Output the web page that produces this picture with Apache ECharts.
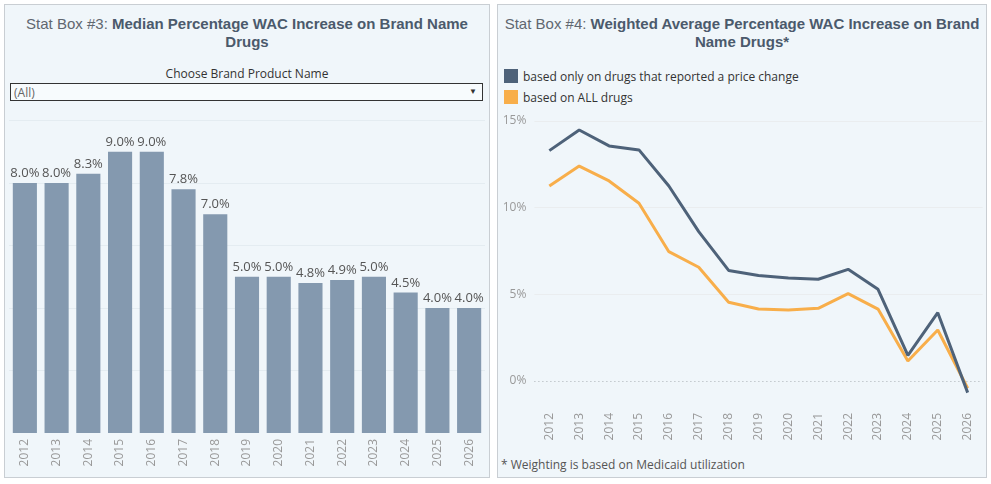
<!DOCTYPE html>
<html>
<head>
<meta charset="utf-8">
<script src="https://cdn.jsdelivr.net/npm/echarts@6/dist/echarts.min.js"></script>
<style>
  html,body{margin:0;padding:0;background:#fff;width:991px;height:484px;overflow:hidden;font-family:"Open Sans","Noto Sans",sans-serif;}
  .panel{position:absolute;background:#F0F6FA;border:1px solid #C9CED3;box-sizing:border-box;}
  .title{position:absolute;text-align:center;font-family:"Liberation Sans",Arial,sans-serif;font-size:15px;line-height:18px;color:#4B5A6C;}
  .title .pre{color:#606770;font-weight:normal;}
  .title b{font-weight:bold;}
  #chart{position:absolute;left:0;top:0;width:991px;height:484px;}
  .lbl{position:absolute;font-size:12px;color:#333;white-space:nowrap;}
  .sq{position:absolute;width:14px;height:14px;}
  .dd{position:absolute;left:10px;top:83px;width:473px;height:18px;border:1px solid #333;box-sizing:border-box;background:#F7FBFD;}
</style>
</head>
<body>
<div class="panel" style="left:4px;top:4px;width:486px;height:474px;"></div>
<div class="panel" style="left:497px;top:4px;width:490px;height:474px;"></div>

<div class="title" style="left:4px;top:15px;width:486px;"><span class="pre">Stat Box #3: </span><b>Median Percentage WAC Increase on Brand Name<br>Drugs</b></div>
<div class="title" style="left:497px;top:15px;width:490px;"><span class="pre">Stat Box #4: </span><b>Weighted Average Percentage WAC Increase on Brand<br>Name Drugs*</b></div>

<div class="lbl" style="left:4px;width:486px;text-align:center;top:65px;">Choose Brand Product Name</div>
<div class="dd"></div>
<div class="lbl" style="left:14px;top:84px;color:#666;">(All)</div>
<div class="lbl" style="left:469px;top:85px;font-size:8px;color:#333;">▼</div>

<div class="sq" style="left:504px;top:69px;background:#4E6279;"></div>
<div class="lbl" style="left:523px;top:68px;">based only on drugs that reported a price change</div>
<div class="sq" style="left:504px;top:90px;background:#F8AE4A;"></div>
<div class="lbl" style="left:523px;top:89px;">based on ALL drugs</div>

<div class="lbl" style="left:501px;top:456px;color:#555;">* Weighting is based on Medicaid utilization</div>

<div id="chart"></div>
<script>
const years = ['2012','2013','2014','2015','2016','2017','2018','2019','2020','2021','2022','2023','2024','2025','2026'];
const medianIncrease = [8.0,8.0,8.3,9.0,9.0,7.8,7.0,5.0,5.0,4.8,4.9,5.0,4.5,4.0,4.0];
const weightedChanged = [13.29,14.48,13.56,13.33,11.25,8.62,6.38,6.08,5.94,5.87,6.44,5.29,1.48,3.94,-0.67];
const weightedAll = [11.25,12.40,11.54,10.25,7.46,6.56,4.54,4.15,4.10,4.19,5.04,4.15,1.15,2.94,-0.42];
const rightTicks = [0,5,10,15];

const chart = echarts.init(document.getElementById('chart'), null, {renderer:'canvas'});
const font = '"Open Sans","Noto Sans",sans-serif';
chart.setOption({
  backgroundColor:'transparent',
  animation:false,
  textStyle:{fontFamily:font},
  grid:[
    {left:9, right:506, top:120.5, bottom:51, containLabel:false},
    {left:534.4, right:8.4, top:112.3, bottom:77, containLabel:false}
  ],
  xAxis:[
    {gridIndex:0, type:'category', data:years, axisLine:{show:false}, axisTick:{show:false},
     axisLabel:{rotate:90, color:'#999', fontSize:12, margin:6, fontFamily:font}},
    {gridIndex:1, type:'category', data:years, axisLine:{show:false}, axisTick:{show:false},
     axisLabel:{rotate:90, color:'#999', fontSize:12, margin:6, fontFamily:font}}
  ],
  yAxis:[
    {gridIndex:0, type:'value', min:0, max:10, interval:2, axisLabel:{show:false}, axisLine:{show:false}, axisTick:{show:false},
     splitLine:{show:true, showMinLine:false, lineStyle:{color:'#E4ECF1', width:1}}},
    {gridIndex:1, type:'value', min:-1.5, max:15.5, axisLine:{show:false}, axisTick:{show:false},
     splitLine:{show:false},
     axisLabel:{customValues:rightTicks, formatter:v=>v+'%', color:'#999', fontSize:12, margin:8, fontFamily:font}}
  ],
  series:[
    {type:'bar', xAxisIndex:0, yAxisIndex:0, data:medianIncrease, barCategoryGap:'24%',
     itemStyle:{color:'#8499AF'},
     label:{show:true, position:'top', distance:3, color:'#555', fontSize:13, fontFamily:font,
            formatter:p=>p.value.toFixed(1)+'%'}},
    {type:'line', xAxisIndex:1, yAxisIndex:1, data:[], z:1, silent:true,
     markLine:{silent:true, z:1, symbol:'none', label:{show:false},
       data:[
         {yAxis:5, lineStyle:{color:'#EAEDEF', width:1, type:'solid'}},
         {yAxis:10, lineStyle:{color:'#EAEDEF', width:1, type:'solid'}},
         {yAxis:15, lineStyle:{color:'#EAEDEF', width:1, type:'solid'}},
         {yAxis:0, lineStyle:{color:'#AAB0B5', width:1, type:[1,3]}}
       ]}},
    {type:'line', xAxisIndex:1, yAxisIndex:1, data:weightedAll, symbol:'none', z:3,
     lineStyle:{color:'#F8AE4A', width:3}},
    {type:'line', xAxisIndex:1, yAxisIndex:1, data:weightedChanged, symbol:'none', z:4,
     lineStyle:{color:'#4E6279', width:3}}
  ]
});
</script>
</body>
</html>
